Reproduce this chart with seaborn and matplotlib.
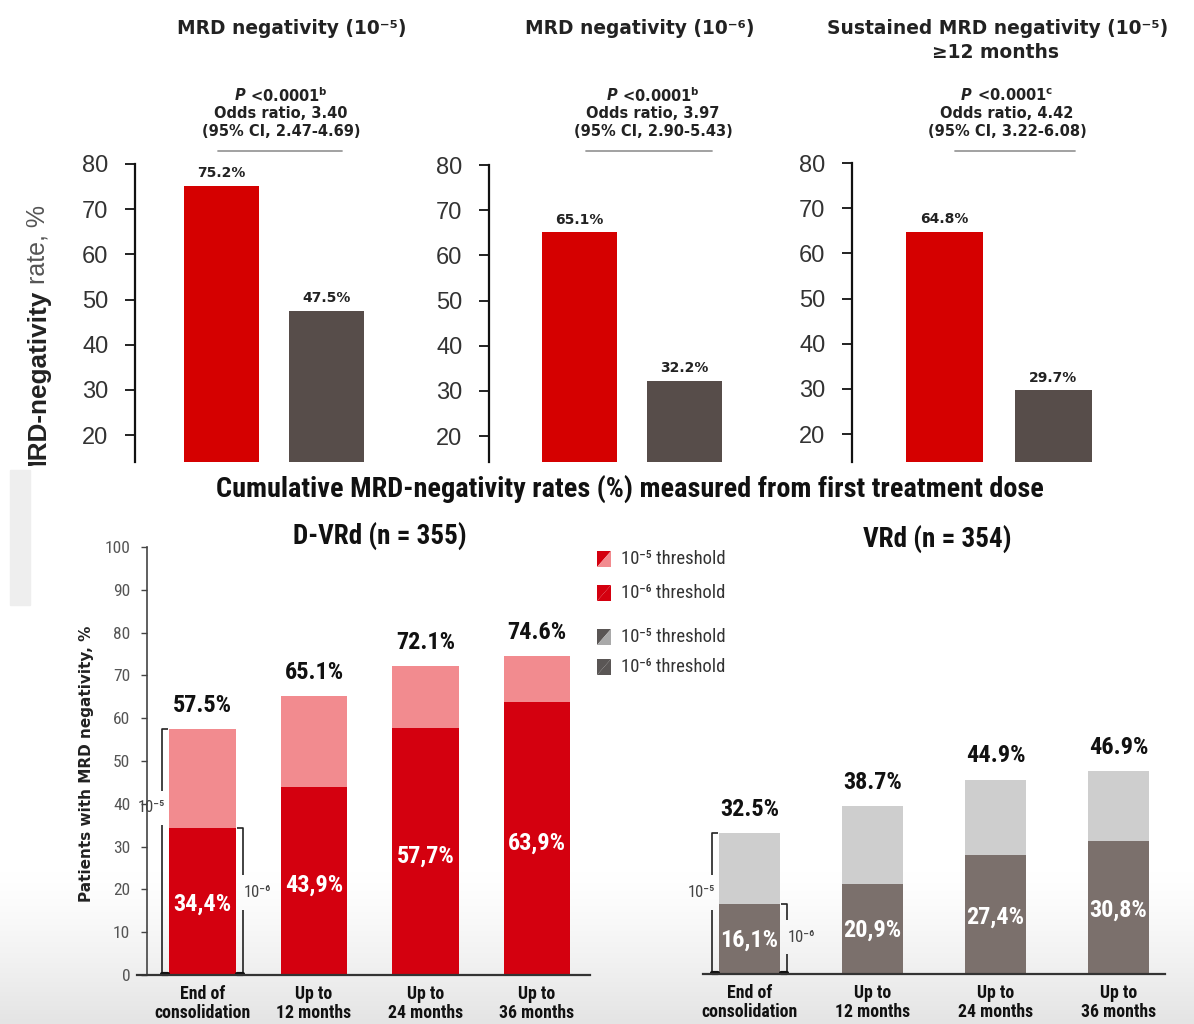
import numpy as np
import matplotlib
matplotlib.use("Agg")
import matplotlib.pyplot as plt
from matplotlib import font_manager as fm
from matplotlib.patches import Rectangle, Polygon
from matplotlib.transforms import Bbox
from matplotlib.colors import LinearSegmentedColormap
import seaborn as sns

# ---------------- data ----------------
top_titles = ["MRD negativity (10⁻⁵)", "MRD negativity (10⁻⁶)", "Sustained MRD negativity (10⁻⁵)"]
top_subtitle = "≥12 months"
top_arms = ["D-VRd", "VRd"]
top_dvrd = [75.2, 65.1, 64.8]
top_vrd = [47.5, 32.2, 29.7]
top_pvals = ["<0.0001$^{\\mathbf{b}}$", "<0.0001$^{\\mathbf{b}}$", "<0.0001$^{\\mathbf{c}}$"]
top_odds = ["3.40", "3.97", "4.42"]
top_ci = ["2.47-4.69", "2.90-5.43", "3.22-6.08"]
top_yticks = [20, 30, 40, 50, 60, 70, 80]

timepoints = ["End of\nconsolidation", "Up to\n12 months", "Up to\n24 months", "Up to\n36 months"]
dvrd_1e5 = [57.5, 65.1, 72.1, 74.6]
dvrd_1e6 = [34.4, 43.9, 57.7, 63.9]
vrd_1e5 = [32.5, 38.7, 44.9, 46.9]
vrd_1e6 = [16.1, 20.9, 27.4, 30.8]
bottom_yticks = list(range(0, 101, 10))
legend_labels = ["10⁻⁵ threshold", "10⁻⁶ threshold", "10⁻⁵ threshold", "10⁻⁶ threshold"]

# ---------------- style ----------------
sns.set_theme(style="white")
plt.rcParams["font.family"] = ["DejaVu Sans"]
ARIAL = ["Liberation Sans", "DejaVu Sans"]


def condensed_font():
    """Pick a narrow sans face for the lower section, best available first."""
    entries = fm.fontManager.ttflist
    names = {e.name for e in entries}
    for want in ["Liberation Sans Narrow", "Noto Sans Condensed", "Roboto Condensed",
                 "Open Sans Condensed", "Noto Sans SemiCondensed"]:
        if want in names:
            return dict(family=[want, "DejaVu Sans"])
    if any(e.name == "Noto Sans" and e.stretch in ("condensed", "semi-condensed", 600, 500)
           for e in entries):
        return dict(family=["Noto Sans", "DejaVu Sans"], fontstretch="condensed")
    return dict(family=["Roboto", "DejaVu Sans"])


NARROW = condensed_font()

RED = "#d50000"
DARK = "#574d4a"
PINK = "#f28b8f"
RED2 = "#d4000f"
GRAY_D = "#7b706c"
GRAY_L = "#cecece"

W, H = 1194, 1024
fig = plt.figure(figsize=(W / 100, H / 100), dpi=100)
fig.patch.set_facecolor("white")
renderer = fig.canvas.get_renderer()


def px_axes(left, top, right, bottom, z=2):
    ax = fig.add_axes([left / W, 1 - bottom / H, (right - left) / W, (bottom - top) / H], zorder=z)
    ax.set_facecolor("none")
    return ax


# background canvas in pixel units (y grows downwards)
bg = fig.add_axes([0, 0, 1, 1], zorder=0)
grad = np.linspace(0, 1, 200)[:, None] ** 1.3
cmap = LinearSegmentedColormap.from_list("fade", ["#ffffff", "#e4e4e4"])
bg.imshow(grad, extent=(0, W, H, 870), aspect="auto", cmap=cmap, zorder=0)
bg.add_patch(Rectangle((10, 470), 20, 135, color="#eeeeee", zorder=1))
bg.set_xlim(0, W)
bg.set_ylim(H, 0)
bg.axis("off")


def mixed_line(cx, y, pieces, **common):
    arts = [bg.text(0, y, txt, ha="left", va="center", **common, **kw) for txt, kw in pieces]
    widths = [a.get_window_extent(renderer=renderer).width for a in arts]
    x = cx - sum(widths) / 2
    for a, w in zip(arts, widths):
        a.set_x(x)
        x += w


# ---------------- top: three response-rate panels ----------------
top_geom = [(135, 164, 221.5, 105.0), (489, 165, 579.5, 105.0), (852, 163, 944.5, 109.0)]
top_title_x = [292, 640, 998]
top_note_x = [281, 653, 1007]
top_rule = [(218, 342), (586, 712), (955, 1075)]
PX_PER_UNIT_TOP = 4.517
TOP_BOTTOM = 462

for i, (spine, top80, c0, step) in enumerate(top_geom):
    right = spine + 262
    ax = px_axes(spine, top80, right, TOP_BOTTOM)
    vals = [top_dvrd[i], top_vrd[i]]
    sns.barplot(x=top_arms, y=vals, hue=top_arms, palette=[RED, DARK], order=top_arms,
                hue_order=top_arms, width=0.705, saturation=1, legend=False, linewidth=0, ax=ax)
    ax.set_xlim((spine - c0) / step, (right - c0) / step)
    ax.set_ylim(80 - (TOP_BOTTOM - top80) / PX_PER_UNIT_TOP, 80)
    for s in ["top", "right", "bottom"]:
        ax.spines[s].set_visible(False)
    ax.spines["left"].set_linewidth(1.6)
    ax.spines["left"].set_color("#111111")
    ax.set_xticks([])
    ax.set_yticks(top_yticks, labels=[str(t) for t in top_yticks], family=ARIAL)
    ax.tick_params(axis="y", direction="out", length=7, width=1.3, color="#111111",
                   pad=12, labelsize=17, labelcolor="#333333", left=True)
    ax.set_xlabel("")
    ax.set_ylabel("")
    for j, v in enumerate(vals):
        ax.annotate(f"{v:.1f}%", (j, v), xytext=(0, 4), textcoords="offset points",
                    ha="center", va="bottom", fontsize=10, fontweight="bold", color="#222222")

    bg.text(top_title_x[i], 28, top_titles[i], ha="center", va="center",
            fontsize=13.4, fontweight="bold", color="#222222")
    cx = top_note_x[i]
    mixed_line(cx, 96, [("P", dict(fontstyle="italic")), (" " + top_pvals[i], {})],
               fontsize=10.5, fontweight="bold", color="#222222")
    bg.text(cx, 114, f"Odds ratio, {top_odds[i]}", ha="center", va="center",
            fontsize=10.5, fontweight="bold", color="#222222")
    bg.text(cx, 132, f"(95% CI, {top_ci[i]})", ha="center", va="center",
            fontsize=10.5, fontweight="bold", color="#222222")
    bg.plot(list(top_rule[i]), [151, 151], color="#9a9a9a", lw=1.3)

bg.text(996, 53, top_subtitle, ha="center", va="center", fontsize=13.4,
        fontweight="bold", color="#222222")

# y label of the top row, cut off by the lower section
clip = Bbox.from_extents(0, H - 466, W, H)
t_reg = bg.text(38, 205, "rate, %", rotation=90, ha="center", va="top",
                fontsize=18, family=ARIAL, color="#555555")
h_reg = t_reg.get_window_extent(renderer=renderer).height
t_bold = bg.text(38, 205 + h_reg + 6, "MRD-negativity", rotation=90, ha="center", va="top",
                 fontsize=18.8, family=ARIAL, fontweight="bold", color="#222222")
for t in (t_reg, t_bold):
    t.set_clip_box(clip)
    t.set_clip_on(True)

# ---------------- bottom: cumulative MRD-negativity ----------------
bg.text(630, 489, "Cumulative MRD-negativity rates (%) measured from first treatment dose",
        ha="center", va="center", fontsize=20.3, fontweight="bold", color="#111111", **NARROW)
bg.text(380, 537, "D-VRd (n = 355)", ha="center", va="center", fontsize=19.5,
        fontweight="bold", color="#111111", **NARROW)
bg.text(937, 540, "VRd (n = 354)", ha="center", va="center", fontsize=19.5,
        fontweight="bold", color="#111111", **NARROW)
bg.text(87, 764, "Patients with MRD negativity, %", rotation=90, ha="center", va="center",
        fontsize=11, fontweight="bold", color="#222222")


def stacked_panel(left, top, right, bottom, c0, step, width, total, lower, light, dark,
                  frac5, frac6, spine_px=None):
    ax = px_axes(left, top, right, bottom)
    sns.barplot(x=timepoints, y=total, order=timepoints, color=light, width=width,
                saturation=1, linewidth=0, ax=ax)
    sns.barplot(x=timepoints, y=lower, order=timepoints, color=dark, width=width,
                saturation=1, linewidth=0, ax=ax)
    ax.set_xlim((left - c0) / step, (right - c0) / step)
    ax.set_ylim(0, 100)
    ax.set_xlabel("")
    ax.set_ylabel("")
    for s in ["top", "right"]:
        ax.spines[s].set_visible(False)
    ax.spines["bottom"].set_color("#333333")
    ax.spines["bottom"].set_linewidth(1.6)
    ax.set_xticks(range(len(timepoints)), labels=timepoints, fontsize=12.8, fontweight="bold",
                  color="#111111", linespacing=1.1, **NARROW)
    ax.tick_params(axis="x", length=0, pad=7)
    if spine_px is not None:
        ax.spines["left"].set_position(("data", (spine_px - c0) / step))
        ax.spines["left"].set_color("#444444")
        ax.spines["left"].set_linewidth(1.2)
        ax.set_yticks(bottom_yticks, labels=[str(t) for t in bottom_yticks],
                      fontsize=12.5, color="#555555", **NARROW)
        ax.tick_params(axis="y", direction="out", length=4, width=1, color="#444444",
                       pad=8, left=True)
    else:
        ax.spines["left"].set_visible(False)
        ax.set_yticks([])

    for k, (tv, lv) in enumerate(zip(total, lower)):
        ax.text(k, tv + 5.5, f"{tv:.1f}%", ha="center", va="center", fontsize=17.5,
                fontweight="bold", color="#111111", **NARROW)
        ax.text(k, lv * 0.48, f"{lv:.1f}%".replace(".", ","), ha="center", va="center",
                fontsize=17.5, fontweight="bold", color="white", **NARROW)

    # threshold brackets around the first bar
    px = 1.0 / (ax.transData.transform((1, 0))[0] - ax.transData.transform((0, 0))[0])
    x_l = -width / 2 - 7 * px
    x_r = width / 2 + 7 * px
    serif = 6 * px
    gap = 4.0
    kw = dict(color="#222222", lw=1.2, clip_on=False, solid_capstyle="butt")
    y5 = total[0] * frac5
    ax.plot([x_l + serif, x_l, x_l], [total[0], total[0], y5 + gap], **kw)
    ax.plot([x_l, x_l, x_l + serif], [y5 - gap, 0, 0], **kw)
    ax.plot([x_l, x_l + serif], [0.3, 0.3], color="#111111", lw=3, clip_on=False)
    ax.text(x_l + 3 * px, y5, "10⁻⁵", ha="right", va="center", fontsize=12,
            color="#444444", **NARROW)
    y6 = lower[0] * frac6
    ax.plot([x_r - serif, x_r, x_r], [lower[0], lower[0], y6 + gap], **kw)
    ax.plot([x_r, x_r, x_r - serif], [y6 - gap, 0, 0], **kw)
    ax.plot([x_r - serif, x_r], [0.3, 0.3], color="#111111", lw=3, clip_on=False)
    ax.text(x_r + 1 * px, y6, "10⁻⁶", ha="left", va="center", fontsize=12,
            color="#444444", **NARROW)
    return ax


stacked_panel(137, 547, 590, 975, 202.5, 111.5, 0.6, dvrd_1e5, dvrd_1e6, PINK, RED2,
              0.68, 0.56, spine_px=147)
stacked_panel(703, 541, 1165, 974, 749.5, 123.0, 0.496, vrd_1e5, vrd_1e6, GRAY_L, GRAY_D,
              0.58, 0.53)

# legend
legend_rows = [559, 593, 637, 667]
legend_swatches = [(RED2, PINK), (RED2, RED2), ("#5a5655", "#a9a9a9"), ("#5a5655", "#5a5655")]
for yc, (c_up, c_low), lab in zip(legend_rows, legend_swatches, legend_labels):
    x0, x1, y0, y1 = 597, 611, yc - 8, yc + 8
    bg.add_patch(Polygon([(x0, y0), (x1, y0), (x0, y1)], closed=True, color=c_up, lw=0, zorder=3))
    bg.add_patch(Polygon([(x1, y0), (x1, y1), (x0, y1)], closed=True, color=c_low, lw=0, zorder=3))
    bg.text(621, yc, lab, ha="left", va="center", fontsize=13.4, color="#333333", **NARROW)

fig.savefig("out.png", dpi=100, facecolor="white")
